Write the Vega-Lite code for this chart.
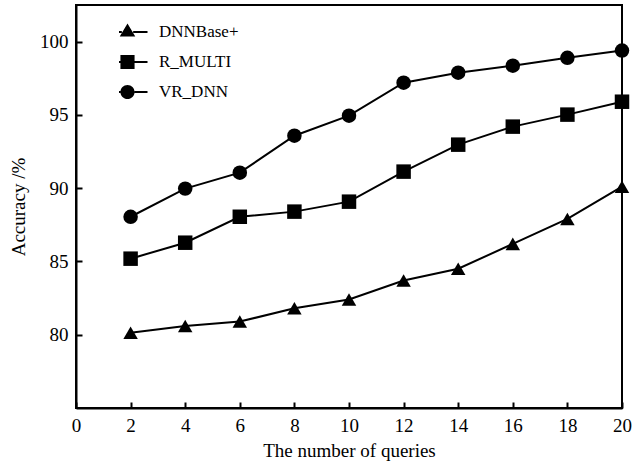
{
  "$schema": "https://vega.github.io/schema/vega-lite/v6.json",
  "width": 546,
  "height": 403,
  "autosize": "none",
  "padding": {"left": 76, "top": 5, "right": 15, "bottom": 54},
  "background": "white",
  "config": {
    "font": "Liberation Serif",
    "view": {"stroke": "black", "strokeWidth": 2},
    "axis": {"grid": false, "domainColor": "black", "domainWidth": 2, "tickColor": "black", "tickWidth": 2, "labelColor": "black", "titleColor": "black", "labelFont": "Liberation Serif", "titleFont": "Liberation Serif", "labelFontSize": 19, "titleFontSize": 19, "titleFontWeight": "normal"}
  },
  "data": {"values": [
    {"q": 2, "acc": 80.14, "series": "DNNBase+"},
    {"q": 4, "acc": 80.6, "series": "DNNBase+"},
    {"q": 6, "acc": 80.9, "series": "DNNBase+"},
    {"q": 8, "acc": 81.8, "series": "DNNBase+"},
    {"q": 10, "acc": 82.4, "series": "DNNBase+"},
    {"q": 12, "acc": 83.7, "series": "DNNBase+"},
    {"q": 14, "acc": 84.5, "series": "DNNBase+"},
    {"q": 16, "acc": 86.2, "series": "DNNBase+"},
    {"q": 18, "acc": 87.9, "series": "DNNBase+"},
    {"q": 20, "acc": 90.1, "series": "DNNBase+"},
    {"q": 2, "acc": 85.19, "series": "R_MULTI"},
    {"q": 4, "acc": 86.28, "series": "R_MULTI"},
    {"q": 6, "acc": 88.05, "series": "R_MULTI"},
    {"q": 8, "acc": 88.4, "series": "R_MULTI"},
    {"q": 10, "acc": 89.08, "series": "R_MULTI"},
    {"q": 12, "acc": 91.13, "series": "R_MULTI"},
    {"q": 14, "acc": 92.97, "series": "R_MULTI"},
    {"q": 16, "acc": 94.2, "series": "R_MULTI"},
    {"q": 18, "acc": 95.02, "series": "R_MULTI"},
    {"q": 20, "acc": 95.9, "series": "R_MULTI"},
    {"q": 2, "acc": 88.05, "series": "VR_DNN"},
    {"q": 4, "acc": 89.97, "series": "VR_DNN"},
    {"q": 6, "acc": 91.06, "series": "VR_DNN"},
    {"q": 8, "acc": 93.58, "series": "VR_DNN"},
    {"q": 10, "acc": 94.95, "series": "VR_DNN"},
    {"q": 12, "acc": 97.2, "series": "VR_DNN"},
    {"q": 14, "acc": 97.88, "series": "VR_DNN"},
    {"q": 16, "acc": 98.36, "series": "VR_DNN"},
    {"q": 18, "acc": 98.9, "series": "VR_DNN"},
    {"q": 20, "acc": 99.39, "series": "VR_DNN"}
  ]},
  "encoding": {
    "x": {"field": "q", "type": "quantitative", "title": "The number of queries",
      "scale": {"domain": [0, 20], "nice": false},
      "axis": {"values": [0, 2, 4, 6, 8, 10, 12, 14, 16, 18, 20], "tickSize": -6, "labelPadding": 14, "titlePadding": 6, "labelFlush": false}},
    "y": {"field": "acc", "type": "quantitative", "title": "Accuracy /%",
      "scale": {"domain": [75, 102.5], "nice": false, "zero": false},
      "axis": {"values": [80, 85, 90, 95, 100], "tickSize": -6, "labelPadding": 14, "titlePadding": 11}}
  },
  "resolve": {"scale": {"shape": "independent"}, "legend": {"shape": "independent"}},
  "layer": [
    {
      "mark": {"type": "line", "strokeWidth": 2, "color": "black"},
      "encoding": {
        "detail": {"field": "series", "type": "nominal"}
      }
    },
    {
      "mark": {"type": "point", "filled": true, "size": 210, "opacity": 1, "color": "black"},
      "encoding": {
        "shape": {"field": "series", "type": "nominal",
          "scale": {"domain": ["DNNBase+", "R_MULTI", "VR_DNN"], "range": ["triangle-up", "square", "circle"]},
          "legend": null}
      }
    },
    {
      "mark": {"type": "point", "filled": true, "size": 200, "opacity": 0, "color": "black"},
      "encoding": {
        "shape": {"field": "series", "type": "nominal",
          "scale": {"domain": ["DNNBase+", "R_MULTI", "VR_DNN"], "range": [
            "M-2.83,-0.14H-0.8V0.14H-2.83Z M0.8,-0.14H2.83V0.14H0.8Z M0,-1.2L1.1,0.65L-1.1,0.65Z",
            "M-2.83,-0.14H-1V0.14H-2.83Z M1,-0.14H2.83V0.14H1Z M-1,-1H1V1H-1Z",
            "M-2.83,-0.14H-1V0.14H-2.83Z M1,-0.14H2.83V0.14H1Z M-1,0A1,1,0,1,1,1,0A1,1,0,1,1,-1,0Z"]},
          "legend": {"orient": "none", "legendX": 43, "legendY": 17, "padding": 0, "title": null, "symbolSize": 200, "symbolOpacity": 1, "symbolFillColor": "black", "symbolStrokeColor": "transparent", "symbolStrokeWidth": 0, "labelFontSize": 17, "labelFont": "Liberation Serif", "labelColor": "black", "clipHeight": 20, "rowPadding": 10, "labelOffset": 23}}
      }
    }
  ]
}
